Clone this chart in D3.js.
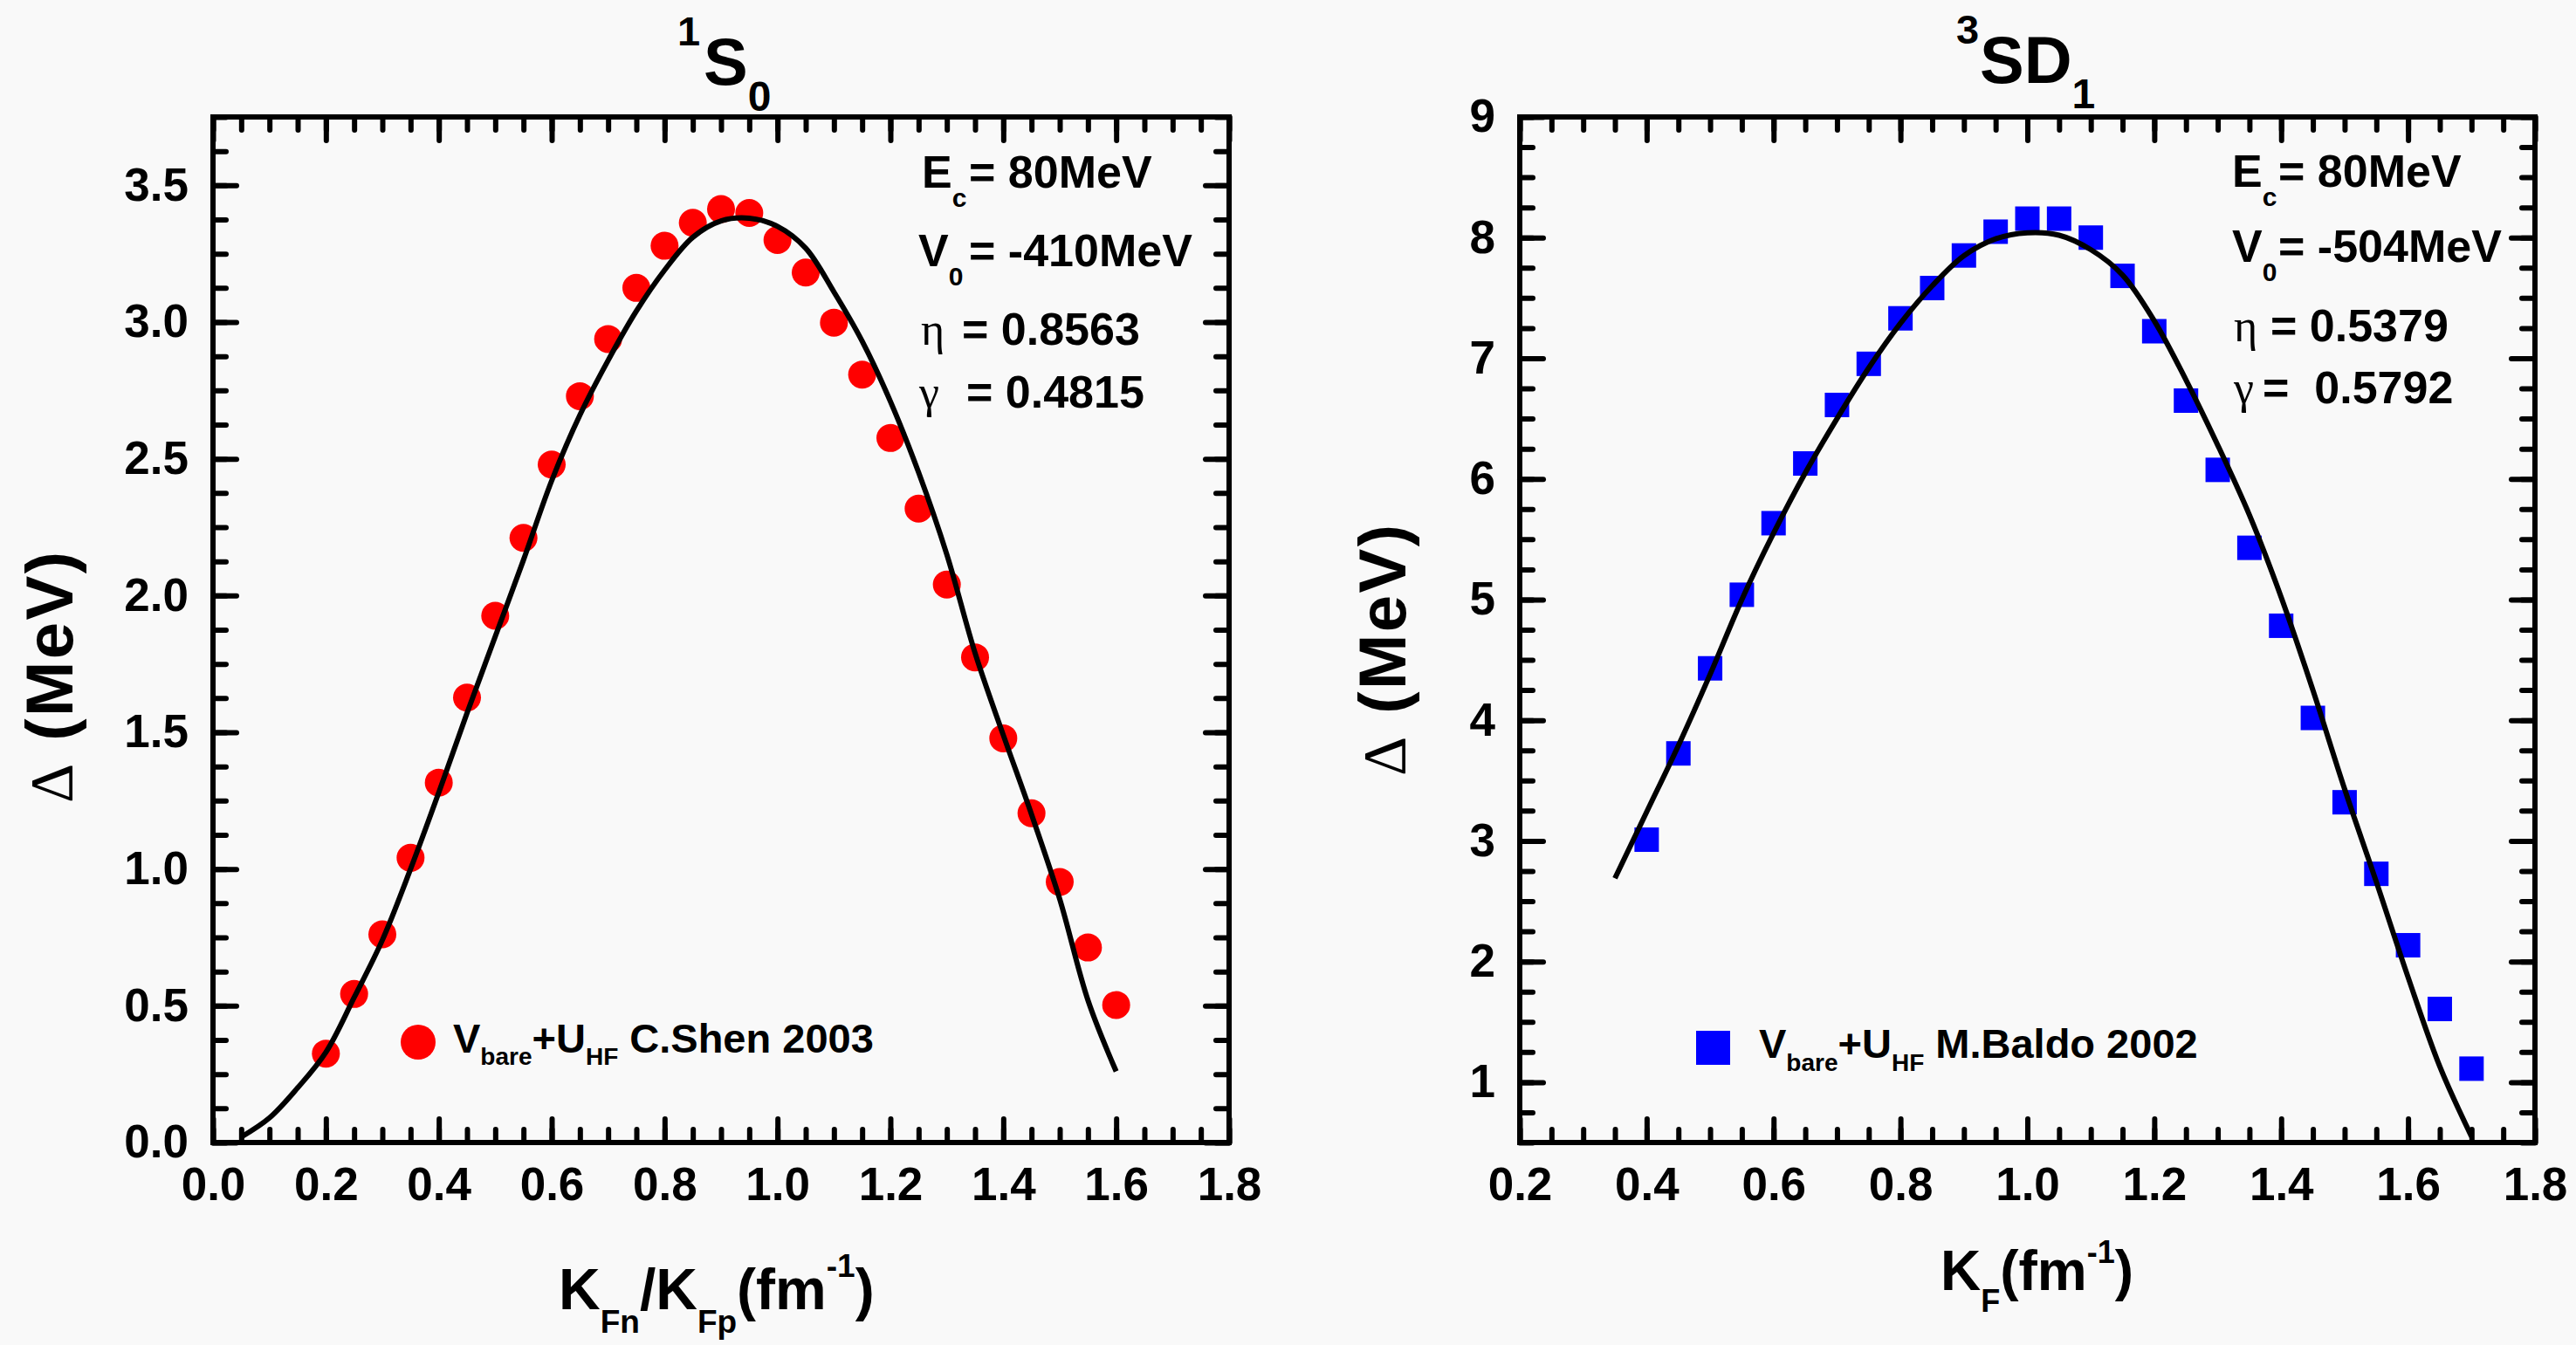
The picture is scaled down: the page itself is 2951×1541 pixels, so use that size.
<!DOCTYPE html>
<html>
<head>
<meta charset="utf-8">
<script src="https://cdn.jsdelivr.net/npm/d3@7"></script>
<style>
  body { margin: 0; background: #f9f9f9; }
  svg text { font-family: "Liberation Sans", Arial, sans-serif; font-weight: bold; fill: #000; white-space: pre; }
  svg text .greek { font-family: "Liberation Serif", "DejaVu Serif", serif; font-weight: normal; }
</style>
</head>
<body>
<svg id="chart" width="2951" height="1541"></svg>
<script>
/* LEFT PANEL: 1S0 gap */
const s0PointK = [0.20, 0.25, 0.30, 0.35, 0.40, 0.45, 0.50, 0.55, 0.60, 0.65, 0.70, 0.75, 0.80, 0.85, 0.90,
  0.95, 1.00, 1.05, 1.10, 1.15, 1.20, 1.25, 1.30, 1.35, 1.40, 1.45, 1.50, 1.55, 1.60]
const s0PointGap = [0.325, 0.543, 0.761, 1.041, 1.316, 1.627, 1.926, 2.211, 2.479, 2.729, 2.938, 3.125, 3.279, 3.363, 3.413,
  3.399, 3.300, 3.181, 2.998, 2.808, 2.576, 2.318, 2.040, 1.774, 1.478, 1.204, 0.953, 0.713, 0.503]
const s0CurveK = [0.05, 0.10, 0.15, 0.20, 0.25, 0.30, 0.35, 0.40, 0.45, 0.50, 0.55, 0.60, 0.65, 0.70, 0.75, 0.80,
  0.85, 0.90, 0.95, 1.00, 1.05, 1.10, 1.15, 1.20, 1.25, 1.30, 1.35, 1.40, 1.45, 1.50, 1.55, 1.60]
const s0CurveGap = [0.02, 0.09, 0.20, 0.33, 0.53, 0.74, 1.00, 1.28, 1.57, 1.85, 2.13, 2.42, 2.66, 2.86, 3.04, 3.19,
  3.31, 3.37, 3.38, 3.35, 3.27, 3.11, 2.93, 2.71, 2.45, 2.15, 1.79, 1.49, 1.20, 0.89, 0.52, 0.26]
const s0XTicks = [0.0, 0.2, 0.4, 0.6, 0.8, 1.0, 1.2, 1.4, 1.6, 1.8]
const s0YTicks = [0.0, 0.5, 1.0, 1.5, 2.0, 2.5, 3.0, 3.5]

/* RIGHT PANEL: 3SD1 gap */
const sdPointK = [0.40, 0.45, 0.50, 0.55, 0.60, 0.65, 0.70, 0.75, 0.80, 0.85, 0.90, 0.95, 1.00, 1.05,
  1.10, 1.15, 1.20, 1.25, 1.30, 1.35, 1.40, 1.45, 1.50, 1.55, 1.60, 1.65, 1.70]
const sdPointGap = [3.01, 3.725, 4.43, 5.04, 5.633, 6.128, 6.613, 6.954, 7.331, 7.582, 7.852, 8.049, 8.157, 8.157,
  8.0, 7.683, 7.224, 6.649, 6.075, 5.429, 4.783, 4.019, 3.32, 2.727, 2.135, 1.607, 1.112]
const sdCurveK = [0.35, 0.40, 0.45, 0.50, 0.55, 0.60, 0.65, 0.70, 0.75, 0.80, 0.85, 0.90, 0.95, 1.00,
  1.05, 1.10, 1.15, 1.20, 1.25, 1.30, 1.35, 1.40, 1.45, 1.50, 1.55, 1.60, 1.65, 1.70]
const sdCurveGap = [2.69, 3.24, 3.79, 4.38, 5.00, 5.55, 6.05, 6.50, 6.92, 7.29, 7.60, 7.85, 7.99, 8.04,
  8.02, 7.90, 7.69, 7.31, 6.82, 6.28, 5.70, 5.02, 4.25, 3.43, 2.66, 1.87, 1.13, 0.55]
const sdXTicks = [0.2, 0.4, 0.6, 0.8, 1.0, 1.2, 1.4, 1.6, 1.8]
const sdYTicks = [1, 2, 3, 4, 5, 6, 7, 8, 9]

const svg = d3.select('#chart')
svg.append('rect').attr('width', 2951).attr('height', 1541).attr('fill', '#f9f9f9')

/* rich text with sub/superscripts, each part may set its own x, y, size */
function rich(parent, x, y, size, parts) {
  const t = parent.append('text').attr('x', x).attr('y', y).style('font-size', size + 'px')
  parts.forEach(p => {
    const s = t.append('tspan').text(p.t)
    if (p.x != null) s.attr('x', p.x)
    if (p.y != null) s.attr('y', p.y)
    if (p.size) s.style('font-size', p.size + 'px')
    if (p.greek) s.attr('class', 'greek')
  })
  return t
}

function panel(p) {
  const g = svg.append('g').attr('transform', `translate(${p.left},${p.top})`)
  const w = p.width, h = p.height

  const x = d3.scaleLinear().domain(p.xDomain).range([0, w])
  const y = d3.scaleLinear().domain(p.yDomain).range([h, 0])

  const addAxis = (axisFn, scale, transform, major, minor, fmt) => {
    g.append('g').attr('transform', transform)
      .call(axisFn(scale).tickValues(minor).tickSize(-15).tickFormat(''))
    const a = g.append('g').attr('transform', transform)
      .call(axisFn(scale).tickValues(major).tickSize(-27).tickPadding(28).tickFormat(fmt || (() => '')))
    a.selectAll('text')
      .style('font-size', '53px')
      .style('font-family', '"Liberation Sans", Arial, sans-serif')
      .style('font-weight', 'bold')
  }

  addAxis(d3.axisBottom, x, `translate(0,${h})`, p.xTicks, p.xMinor, d3.format('.1f'))
  addAxis(d3.axisTop, x, 'translate(0,0)', p.xTicks, p.xMinor, null)
  addAxis(d3.axisLeft, y, 'translate(0,0)', p.yTicks, p.yMinor, p.yFormat)
  addAxis(d3.axisRight, y, `translate(${w},0)`, p.yTicks, p.yMinor, null)

  g.selectAll('.domain').remove()
  g.selectAll('.tick line')
    .attr('stroke', '#000')
    .attr('stroke-width', 6)
    .attr('stroke-linecap', 'round')

  /* DATA MARKERS */
  const pts = p.pointK.map((k, i) => ({ k: k, v: p.pointGap[i] }))
  if (p.marker === 'circle') {
    g.selectAll('circle.pt').data(pts).enter().append('circle')
      .attr('class', 'pt')
      .attr('cx', d => x(d.k))
      .attr('cy', d => y(d.v))
      .attr('r', 16)
      .attr('fill', '#ff0000')
  } else {
    g.selectAll('rect.pt').data(pts).enter().append('rect')
      .attr('class', 'pt')
      .attr('x', d => x(d.k) - 14)
      .attr('y', d => y(d.v) - 14)
      .attr('width', 28)
      .attr('height', 28)
      .attr('fill', '#0000ff')
  }

  /* FIT CURVE */
  const curve = p.curveK.map((k, i) => [k, p.curveGap[i]])
  g.append('path').datum(curve)
    .attr('fill', 'none')
    .attr('stroke', '#000')
    .attr('stroke-width', 6)
    .attr('d', d3.line().x(d => x(d[0])).y(d => y(d[1])).curve(d3.curveCatmullRom.alpha(0.5)))

  /* FRAME */
  g.append('rect')
    .attr('width', w).attr('height', h)
    .attr('fill', 'none')
    .attr('stroke', '#000')
    .attr('stroke-width', 6)
}

panel({
  left: 244, top: 134, width: 1164, height: 1175,
  xDomain: [0, 1.8], yDomain: [0, 3.75],
  xTicks: s0XTicks, xMinor: d3.range(0, 1.8001, 0.05),
  yTicks: s0YTicks, yMinor: d3.range(0, 3.7501, 0.125),
  yFormat: d3.format('.1f'),
  pointK: s0PointK, pointGap: s0PointGap,
  curveK: s0CurveK, curveGap: s0CurveGap,
  marker: 'circle'
})

panel({
  left: 1741, top: 134, width: 1163, height: 1175,
  xDomain: [0.2, 1.8], yDomain: [0.5, 9],
  xTicks: sdXTicks, xMinor: d3.range(0.2, 1.8001, 0.05),
  yTicks: sdYTicks, yMinor: d3.range(0.5, 9.0001, 0.25),
  yFormat: d3.format('d'),
  pointK: sdPointK, pointGap: sdPointGap,
  curveK: sdCurveK, curveGap: sdCurveGap,
  marker: 'square'
})

/* TITLES */
rich(svg, 776, 52, 47, [{ t: '1' }, { t: 'S', x: 806, y: 97, size: 76 }, { t: '0', size: 48, y: 127 }])
rich(svg, 2241, 50, 47, [{ t: '3' }, { t: 'SD', x: 2268, y: 95, size: 76 }, { t: '1', size: 48, y: 124 }])

/* PARAMETER ANNOTATIONS */
rich(svg, 1056, 215, 52, [{ t: 'E' }, { t: 'c', size: 30, y: 237 }, { t: '= 80MeV', x: 1110, y: 215 }])
rich(svg, 1052, 305, 52, [{ t: 'V' }, { t: '0', size: 30, y: 327 }, { t: '= -410MeV', x: 1110, y: 305 }])
rich(svg, 1055, 395, 52, [{ t: 'η', greek: true }, { t: '= 0.8563', x: 1102 }])
rich(svg, 1053, 467, 52, [{ t: 'γ', greek: true }, { t: '= 0.4815', x: 1107 }])

rich(svg, 2557, 214, 52, [{ t: 'E' }, { t: 'c', size: 30, y: 236 }, { t: '= 80MeV', x: 2610, y: 214 }])
rich(svg, 2557, 300, 52, [{ t: 'V' }, { t: '0', size: 30, y: 322 }, { t: '= -504MeV', x: 2610, y: 300 }])
rich(svg, 2559, 391, 52, [{ t: 'η', greek: true }, { t: '= 0.5379', x: 2601 }])
rich(svg, 2559, 462, 52, [{ t: 'γ', greek: true }, { t: '=  0.5792', x: 2592 }])

/* LEGENDS */
svg.append('circle').attr('cx', 479).attr('cy', 1194).attr('r', 20).attr('fill', '#ff0000')
rich(svg, 519, 1206, 47, [{ t: 'V' }, { t: 'bare', size: 28, y: 1220 }, { t: '+U', y: 1206 },
  { t: 'HF', size: 28, y: 1220 }, { t: ' C.Shen 2003', y: 1206 }])

svg.append('rect').attr('x', 1943).attr('y', 1181).attr('width', 39).attr('height', 39).attr('fill', '#0000ff')
rich(svg, 2015, 1212, 47, [{ t: 'V' }, { t: 'bare', size: 28, y: 1227 }, { t: '+U', y: 1212 },
  { t: 'HF', size: 28, y: 1227 }, { t: ' M.Baldo 2002', y: 1212 }])

/* AXIS TITLES */
rich(svg, 640, 1500, 66, [{ t: 'K' }, { t: 'Fn', size: 37, y: 1527 }, { t: '/K', y: 1500 },
  { t: 'Fp', size: 37, y: 1527 }, { t: '(fm', y: 1500 }, { t: '-1', size: 37, y: 1463 }, { t: ')', y: 1500 }])
rich(svg, 2223, 1478, 64, [{ t: 'K' }, { t: 'F', size: 36, y: 1503 }, { t: '(fm', y: 1478 },
  { t: '-1', size: 36, y: 1447 }, { t: ')', y: 1478 }])

const yTitle = (tx, ty) => {
  const t = svg.append('text')
    .attr('transform', `translate(${tx},${ty}) rotate(-90)`)
    .style('font-size', '76px')
    .style('letter-spacing', '2.5px')
  t.append('tspan').attr('class', 'greek').style('font-size', '70px').text('Δ')
  t.append('tspan').text(' (MeV)')
}
yTitle(83, 920)
yTitle(1610, 889)
</script>
</body>
</html>
